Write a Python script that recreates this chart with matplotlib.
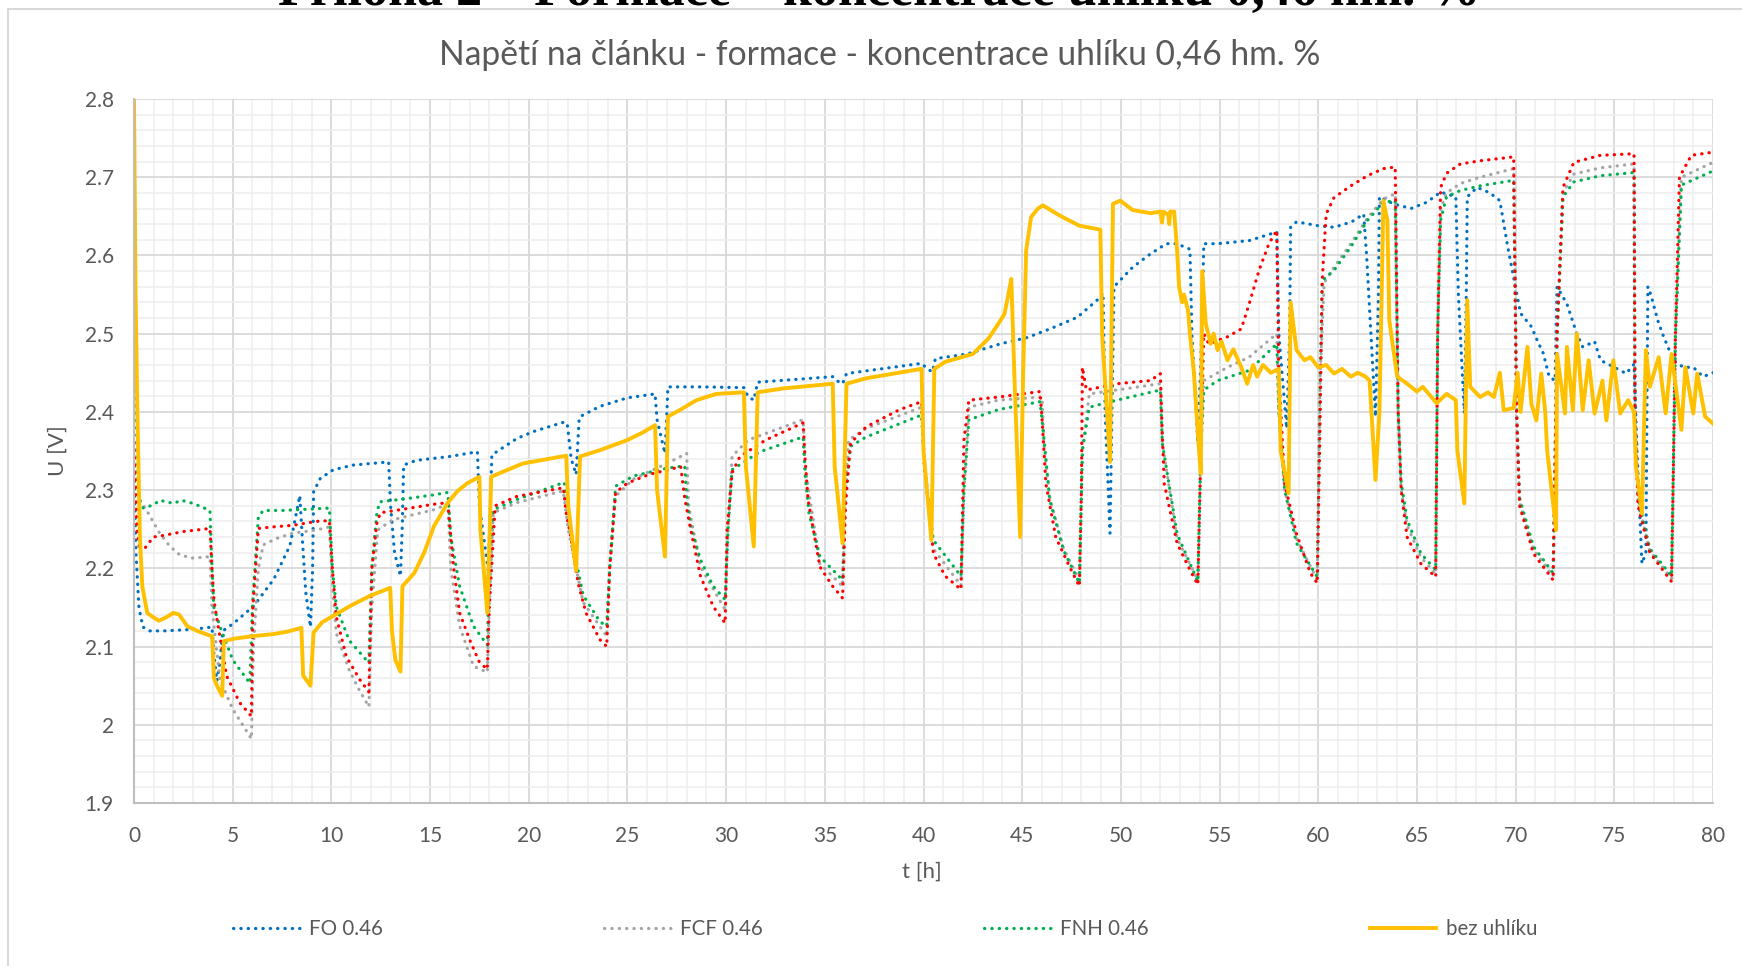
import numpy as np
import matplotlib
matplotlib.use('Agg')
import matplotlib.pyplot as plt
from matplotlib.patches import Rectangle
from matplotlib.ticker import MultipleLocator, FormatStrFormatter

## Data (t [h], U [V])

fo_pts = [(0, 2.33), (0.1, 2.22), (0.25, 2.15), (0.45, 2.125), (0.8, 2.12), (1.5, 2.12), (3.0, 2.122),
          (3.95, 2.125), (4.05, 2.09), (4.2, 2.056), (4.35, 2.08), (4.5, 2.12), (5.06, 2.13), (6.07, 2.152),
          (7.08, 2.186), (7.9, 2.229), (8.4, 2.293), (8.5, 2.25), (8.7, 2.17), (8.94, 2.125), (9.05, 2.2),
          (9.1, 2.298), (9.44, 2.315), (10.1, 2.326), (11.1, 2.332), (12.9, 2.336), (13.0, 2.28), (13.2, 2.22),
          (13.5, 2.19), (13.6, 2.26), (13.66, 2.332), (14.3, 2.338), (16.0, 2.343), (17.4, 2.349), (17.5, 2.28),
          (17.96, 2.195), (18.05, 2.28), (18.13, 2.345), (19.4, 2.366), (20.25, 2.375), (21.8, 2.387),
          (21.95, 2.385), (22.15, 2.34), (22.4, 2.32), (22.55, 2.39), (22.6, 2.394), (23.6, 2.407), (25.0, 2.418),
          (26.4, 2.423), (26.5, 2.39), (26.9, 2.347), (27.0, 2.4), (27.05, 2.432), (28.7, 2.432), (30.9, 2.431),
          (31.1, 2.42), (31.4, 2.415), (31.6, 2.438), (35.4, 2.445), (35.6, 2.44), (35.9, 2.436), (36.1, 2.449),
          (39.9, 2.462), (40.2, 2.455), (40.45, 2.451), (40.6, 2.468), (42.2, 2.474), (43.9, 2.487),
          (45.25, 2.495), (46.4, 2.506), (47.8, 2.521), (48.8, 2.543), (49.1, 2.552), (49.2, 2.40),
          (49.45, 2.245), (49.55, 2.40), (49.65, 2.56), (50.6, 2.585), (51.5, 2.602), (52.3, 2.615),
          (52.85, 2.615), (53.2, 2.611), (53.5, 2.608), (53.6, 2.5), (53.9, 2.36), (54.1, 2.5), (54.2, 2.615),
          (54.9, 2.615), (56.5, 2.619), (57.9, 2.63), (58.0, 2.5), (58.4, 2.379), (58.55, 2.5), (58.6, 2.636),
          (58.9, 2.643), (60.0, 2.638), (60.8, 2.636), (61.7, 2.643), (62.3, 2.653), (62.45, 2.6), (62.9, 2.394),
          (63.05, 2.55), (63.1, 2.675), (63.8, 2.666), (64.7, 2.66), (65.5, 2.668), (66.2, 2.681),
          (66.97, 2.675), (67.1, 2.55), (67.4, 2.398), (67.5, 2.55), (67.55, 2.675), (68.05, 2.687),
          (68.7, 2.68), (69.2, 2.67), (69.6, 2.611), (69.9, 2.572), (70.25, 2.526), (70.8, 2.509), (71.1, 2.491),
          (71.4, 2.475), (71.7, 2.445), (72.0, 2.44), (72.1, 2.56), (72.6, 2.538), (73.1, 2.5), (73.4, 2.483),
          (74.0, 2.49), (74.3, 2.466), (75.0, 2.457), (75.6, 2.449), (76.0, 2.461), (76.15, 2.35), (76.4, 2.206),
          (76.6, 2.22), (76.7, 2.56), (76.85, 2.55), (77.2, 2.517), (77.5, 2.496), (78.0, 2.466), (78.5, 2.457),
          (79.0, 2.457), (79.5, 2.445), (80.0, 2.45)]

fcf_pts = [(0, 2.38), (0.1, 2.32), (0.3, 2.287), (0.64, 2.274), (1.3, 2.245), (1.82, 2.228), (2.33, 2.217),
           (3.0, 2.213), (3.85, 2.215), (3.95, 2.15), (4.35, 2.058), (5.0, 2.02), (5.95, 1.982), (6.05, 2.1),
           (6.3, 2.2), (6.55, 2.23), (7.2, 2.238), (8.06, 2.245), (9.24, 2.249), (9.9, 2.253), (10.05, 2.18),
           (10.25, 2.117), (10.9, 2.07), (11.4, 2.045), (11.9, 2.023), (12.05, 2.15), (12.35, 2.249),
           (13.1, 2.262), (15.2, 2.275), (15.9, 2.282), (16.05, 2.2), (16.5, 2.126), (17.2, 2.075),
           (17.9, 2.067), (18.0, 2.15), (18.2, 2.271), (19.4, 2.284), (21.75, 2.299), (22.0, 2.25),
           (22.75, 2.157), (23.95, 2.113), (24.1, 2.2), (24.4, 2.292), (25.3, 2.314), (27.0, 2.334),
           (28.0, 2.347), (28.1, 2.28), (28.7, 2.202), (29.95, 2.147), (30.1, 2.25), (30.3, 2.343),
           (31.1, 2.364), (32.5, 2.377), (33.9, 2.39), (34.0, 2.33), (34.75, 2.206), (35.9, 2.177), (36.05, 2.3),
           (36.2, 2.364), (37.1, 2.379), (39.9, 2.406), (40.05, 2.33), (40.5, 2.225), (41.9, 2.178), (42.05, 2.3),
           (42.3, 2.406), (43.8, 2.415), (46.0, 2.419), (46.1, 2.36), (46.4, 2.29), (47.1, 2.225), (47.9, 2.185),
           (48.05, 2.35), (48.4, 2.423), (49.8, 2.428), (52.0, 2.436), (52.1, 2.36), (52.85, 2.238),
           (53.9, 2.185), (54.05, 2.35), (54.2, 2.44), (55.4, 2.457), (56.5, 2.47), (57.9, 2.5), (58.0, 2.4),
           (58.3, 2.3), (58.9, 2.238), (59.95, 2.185), (60.1, 2.45), (60.3, 2.565), (60.8, 2.585),
           (61.65, 2.615), (62.5, 2.648), (63.3, 2.672), (63.9, 2.679), (64.05, 2.4), (64.2, 2.3), (64.5, 2.255),
           (65.2, 2.214), (65.95, 2.193), (66.05, 2.5), (66.2, 2.66), (66.5, 2.68), (67.2, 2.692), (68.2, 2.7),
           (69.9, 2.711), (70.05, 2.4), (70.2, 2.285), (70.9, 2.224), (71.9, 2.19), (72.1, 2.5), (72.4, 2.68),
           (72.95, 2.704), (74.3, 2.712), (76.0, 2.717), (76.05, 2.4), (76.2, 2.285), (76.8, 2.222),
           (77.9, 2.187), (78.1, 2.5), (78.4, 2.7), (80.0, 2.719)]

fnh_pts = [(0, 2.53), (0.1, 2.4), (0.25, 2.29), (0.47, 2.277), (0.98, 2.281), (1.3, 2.287), (2.0, 2.283),
           (2.4, 2.287), (3.0, 2.283), (3.85, 2.274), (3.95, 2.2), (4.05, 2.15), (4.35, 2.126), (5.0, 2.083),
           (5.87, 2.053), (6.0, 2.15), (6.3, 2.266), (6.55, 2.274), (7.55, 2.274), (9.9, 2.277), (10.05, 2.2),
           (10.25, 2.151), (10.9, 2.108), (11.9, 2.079), (12.05, 2.2), (12.3, 2.27), (12.45, 2.285),
           (13.1, 2.287), (13.5, 2.288), (15.2, 2.294), (15.9, 2.297), (16.05, 2.24), (16.5, 2.177),
           (17.2, 2.126), (17.9, 2.102), (18.0, 2.2), (18.2, 2.275), (19.4, 2.288), (21.8, 2.31), (22.0, 2.26),
           (22.75, 2.166), (23.6, 2.132), (23.95, 2.126), (24.1, 2.2), (24.4, 2.305), (25.3, 2.318),
           (27.0, 2.328), (27.9, 2.331), (28.0, 2.29), (28.2, 2.254), (28.7, 2.211), (29.35, 2.177),
           (29.95, 2.16), (30.1, 2.25), (30.3, 2.326), (31.7, 2.349), (33.9, 2.368), (34.0, 2.32), (34.2, 2.27),
           (34.75, 2.215), (35.9, 2.185), (36.05, 2.3), (36.3, 2.356), (37.1, 2.368), (39.9, 2.396),
           (40.05, 2.33), (40.5, 2.236), (41.9, 2.19), (42.05, 2.3), (42.3, 2.39), (43.8, 2.403), (45.9, 2.413),
           (46.05, 2.38), (46.4, 2.287), (47.1, 2.223), (47.9, 2.181), (48.05, 2.351), (48.4, 2.406),
           (49.8, 2.415), (52.0, 2.428), (52.1, 2.36), (52.85, 2.244), (53.9, 2.183), (54.05, 2.35),
           (54.2, 2.428), (54.9, 2.44), (56.5, 2.453), (57.9, 2.487), (58.0, 2.4), (58.3, 2.3), (58.9, 2.232),
           (59.95, 2.189), (60.1, 2.45), (60.2, 2.568), (60.8, 2.581), (61.65, 2.611), (62.5, 2.645),
           (63.3, 2.668), (63.9, 2.67), (64.05, 2.4), (64.2, 2.31), (64.5, 2.262), (65.2, 2.219), (65.95, 2.198),
           (66.05, 2.5), (66.2, 2.645), (66.5, 2.675), (67.2, 2.683), (68.2, 2.689), (69.9, 2.696),
           (70.05, 2.4), (70.2, 2.29), (70.9, 2.228), (71.9, 2.194), (72.1, 2.5), (72.4, 2.675),
           (72.95, 2.694), (74.3, 2.702), (76.0, 2.706), (76.05, 2.4), (76.2, 2.29), (76.8, 2.225),
           (77.9, 2.19), (78.1, 2.5), (78.4, 2.69), (80.0, 2.708)]

red_pts = [(0, 2.36), (0.15, 2.25), (0.3, 2.22), (0.47, 2.223), (0.98, 2.24), (1.48, 2.242), (2.5, 2.247),
           (3.85, 2.251), (3.95, 2.2), (4.05, 2.16), (4.18, 2.138), (4.7, 2.062), (5.36, 2.028), (5.95, 2.011),
           (6.02, 2.15), (6.3, 2.251), (7.05, 2.253), (8.06, 2.255), (9.24, 2.26), (9.9, 2.261), (10.05, 2.2),
           (10.25, 2.138), (10.76, 2.087), (11.43, 2.058), (11.9, 2.042), (12.05, 2.2), (12.3, 2.257),
           (12.48, 2.271), (13.5, 2.275), (15.2, 2.282), (15.9, 2.284), (16.05, 2.24), (16.2, 2.2),
           (16.5, 2.143), (17.0, 2.109), (17.5, 2.08), (17.9, 2.071), (18.0, 2.15), (18.3, 2.28), (19.4, 2.292),
           (21.75, 2.303), (21.9, 2.27), (22.1, 2.245), (22.5, 2.181), (22.9, 2.143), (23.6, 2.109),
           (23.95, 2.1), (24.1, 2.2), (24.4, 2.297), (25.0, 2.309), (26.1, 2.32), (27.7, 2.33), (27.9, 2.29),
           (28.2, 2.25), (28.7, 2.19), (29.35, 2.151), (29.95, 2.13), (30.05, 2.25), (30.3, 2.322),
           (30.7, 2.343), (32.0, 2.364), (33.9, 2.386), (34.0, 2.34), (34.15, 2.288), (34.75, 2.202),
           (35.4, 2.177), (35.9, 2.162), (36.05, 2.28), (36.3, 2.36), (37.1, 2.381), (38.8, 2.403),
           (39.9, 2.413), (40.05, 2.33), (40.5, 2.219), (41.1, 2.19), (41.9, 2.173), (42.05, 2.364),
           (42.3, 2.415), (43.8, 2.419), (45.9, 2.426), (46.0, 2.394), (46.2, 2.308), (46.7, 2.24),
           (47.4, 2.202), (47.9, 2.177), (48.0, 2.3), (48.05, 2.457), (48.25, 2.428), (49.8, 2.436),
           (51.5, 2.44), (52.0, 2.449), (52.1, 2.37), (52.2, 2.308), (52.85, 2.232), (53.5, 2.198),
           (53.9, 2.179), (54.05, 2.35), (54.2, 2.50), (54.45, 2.487), (55.4, 2.496), (56.1, 2.506),
           (56.5, 2.538), (57.0, 2.581), (57.5, 2.615), (57.9, 2.632), (58.0, 2.45), (58.3, 2.308),
           (58.9, 2.244), (59.6, 2.194), (59.95, 2.181), (60.1, 2.4), (60.2, 2.568), (60.4, 2.653),
           (60.8, 2.674), (61.65, 2.689), (62.5, 2.702), (63.3, 2.711), (63.9, 2.713), (64.05, 2.4),
           (64.2, 2.3), (64.5, 2.24), (65.2, 2.206), (65.95, 2.189), (66.05, 2.5), (66.2, 2.687),
           (66.5, 2.705), (67.2, 2.717), (68.2, 2.721), (69.9, 2.726), (70.05, 2.4), (70.2, 2.28),
           (70.9, 2.219), (71.9, 2.185), (72.1, 2.5), (72.4, 2.687), (72.95, 2.719), (74.3, 2.728),
           (76.0, 2.73), (76.05, 2.4), (76.2, 2.28), (76.8, 2.22), (77.9, 2.183), (78.1, 2.5), (78.3, 2.7),
           (78.9, 2.728), (80.0, 2.732)]

bez_pts = [(0, 2.80), (0.08, 2.55), (0.17, 2.40), (0.3, 2.24), (0.42, 2.177), (0.67, 2.143), (1.0, 2.137),
           (1.26, 2.133), (1.6, 2.137), (2.0, 2.143), (2.28, 2.141), (2.7, 2.126), (3.2, 2.12), (3.96, 2.113),
           (4.05, 2.06), (4.2, 2.05), (4.47, 2.037), (4.55, 2.107), (5.06, 2.11), (5.9, 2.113), (7.08, 2.116),
           (7.76, 2.119), (8.48, 2.124), (8.57, 2.063), (8.94, 2.05), (9.1, 2.118), (9.53, 2.131),
           (10.96, 2.152), (11.97, 2.165), (12.98, 2.175), (13.07, 2.12), (13.24, 2.083), (13.5, 2.068),
           (13.6, 2.177), (14.2, 2.194), (14.7, 2.22), (15.2, 2.254), (15.9, 2.284), (16.4, 2.299),
           (16.9, 2.309), (17.5, 2.317), (17.55, 2.25), (17.9, 2.143), (18.1, 2.317), (18.55, 2.322),
           (19.7, 2.334), (21.9, 2.344), (22.0, 2.28), (22.4, 2.197), (22.6, 2.343), (23.6, 2.351),
           (25.0, 2.364), (25.8, 2.374), (26.4, 2.383), (26.5, 2.3), (26.9, 2.215), (27.05, 2.394),
           (27.7, 2.403), (28.5, 2.415), (29.5, 2.423), (30.9, 2.425), (31.0, 2.33), (31.4, 2.228),
           (31.6, 2.425), (32.9, 2.43), (35.4, 2.436), (35.5, 2.33), (35.9, 2.232), (36.1, 2.436),
           (37.1, 2.443), (39.9, 2.455), (40.0, 2.35), (40.4, 2.236), (40.55, 2.455), (41.1, 2.464),
           (42.5, 2.474), (43.3, 2.494), (43.8, 2.513), (44.1, 2.525), (44.3, 2.55), (44.45, 2.57),
           (44.6, 2.45), (44.9, 2.24), (45.05, 2.45), (45.2, 2.606), (45.45, 2.649), (45.8, 2.66),
           (46.05, 2.664), (46.9, 2.651), (47.9, 2.638), (48.96, 2.633), (49.05, 2.5), (49.45, 2.336),
           (49.6, 2.666), (49.97, 2.67), (50.6, 2.658), (51.5, 2.654), (52.0, 2.656), (52.08, 2.642),
           (52.15, 2.656), (52.4, 2.652), (52.45, 2.64), (52.5, 2.656), (52.7, 2.656), (52.85, 2.606),
           (52.95, 2.56), (53.1, 2.54), (53.2, 2.55), (53.4, 2.53), (53.5, 2.5), (53.7, 2.45), (53.9, 2.372),
           (54.05, 2.321), (54.12, 2.58), (54.3, 2.513), (54.55, 2.487), (54.7, 2.5), (54.9, 2.479),
           (55.1, 2.49), (55.4, 2.466), (55.7, 2.48), (56.1, 2.457), (56.4, 2.436), (56.7, 2.46),
           (56.9, 2.445), (57.2, 2.46), (57.6, 2.45), (58.0, 2.455), (58.1, 2.35), (58.5, 2.296),
           (58.6, 2.54), (58.9, 2.479), (59.3, 2.466), (59.6, 2.47), (60.0, 2.457), (60.4, 2.46),
           (60.8, 2.449), (61.2, 2.455), (61.65, 2.445), (62.0, 2.45), (62.4, 2.445), (62.6, 2.44),
           (62.9, 2.313), (63.1, 2.40), (63.3, 2.67), (63.5, 2.645), (63.6, 2.517), (64.0, 2.445),
           (64.4, 2.438), (64.7, 2.432), (65.0, 2.426), (65.3, 2.432), (65.7, 2.42), (66.0, 2.411),
           (66.5, 2.423), (66.97, 2.415), (67.05, 2.35), (67.4, 2.283), (67.55, 2.543), (67.7, 2.432),
           (68.2, 2.419), (68.6, 2.425), (68.9, 2.419), (69.2, 2.45), (69.4, 2.402), (69.9, 2.405),
           (70.1, 2.45), (70.25, 2.4), (70.6, 2.483), (70.8, 2.41), (71.05, 2.389), (71.3, 2.449),
           (71.5, 2.4), (71.6, 2.35), (72.05, 2.249), (72.1, 2.474), (72.5, 2.398), (72.6, 2.483),
           (72.9, 2.402), (73.1, 2.5), (73.4, 2.402), (73.7, 2.466), (74.0, 2.398), (74.4, 2.44),
           (74.6, 2.389), (74.95, 2.466), (75.3, 2.398), (75.7, 2.415), (76.0, 2.40), (76.1, 2.33),
           (76.4, 2.27), (76.6, 2.479), (76.8, 2.432), (77.25, 2.47), (77.6, 2.398), (77.9, 2.474),
           (78.4, 2.377), (78.6, 2.457), (79.0, 2.398), (79.2, 2.449), (79.6, 2.394), (80.0, 2.385)]

labels = ['FO 0.46', 'FCF 0.46', 'FNH 0.46', 'bez uhlíku']

heading = 'Příloha 2 – Formace – koncentrace uhlíku 0,46 hm. %'
title = 'Napětí na článku - formace - koncentrace uhlíku 0,46 hm. %'

## Figure

plt.rcParams['font.family'] = ['Lato', 'DejaVu Sans']
txt_col = '#595959'
W, H = 1742, 966

fig = plt.figure(figsize=(W / 100, H / 100), dpi=100)
ax = fig.add_axes([134 / W, 1 - 803 / H, (1713 - 134) / W, (803 - 99) / H])

dot = dict(lw=2.3, linestyle=(0, (0.1, 2.2)), dash_capstyle='round')
series = [(fo_pts, '#0070C0', labels[0]), (fcf_pts, '#A5A5A5', labels[1]),
          (fnh_pts, '#00B050', labels[2]), (red_pts, '#FF0000', '_nolegend_')]
for pts, col, lab in series:
    t, u = np.array(pts).T
    ax.plot(t, u, color=col, label=lab, **dot)
t, u = np.array(bez_pts).T
ax.plot(t, u, color='#FFC000', lw=2.8, label=labels[3], solid_joinstyle='round')

ax.set_xlim(0, 80)
ax.set_ylim(1.9, 2.8)
ax.xaxis.set_major_locator(MultipleLocator(5))
ax.xaxis.set_minor_locator(MultipleLocator(1))
ax.yaxis.set_major_locator(MultipleLocator(0.1))
ax.yaxis.set_minor_locator(MultipleLocator(0.02))
ax.yaxis.set_major_formatter(FormatStrFormatter('%g'))
ax.grid(which='minor', color='#EDEDED', lw=1.1)
ax.grid(which='major', color='#D6D6D6', lw=1.2)
ax.set_axisbelow(True)
for s in ['top', 'right']:
    ax.spines[s].set_visible(False)
for s in ['left', 'bottom']:
    ax.spines[s].set_color('#BFBFBF')
    ax.spines[s].set_linewidth(1.5)
ax.tick_params(which='both', length=0, labelcolor=txt_col, labelsize=15)
ax.tick_params(axis='y', pad=14.5)
ax.tick_params(axis='x', pad=16.5)

fig.text(58 / W, 1 - 451 / H, 'U [V]', rotation=90, ha='center', va='center', color=txt_col, fontsize=16)
fig.text(922 / W, 1 - 872 / H, 't [h]', ha='center', va='center', color=txt_col, fontsize=16)
fig.text(880 / W, 1 - 55 / H, title, ha='center', va='center', color=txt_col, fontsize=24.2)
fig.text(879 / W, 1 - 4.5 / H, heading, ha='center', va='baseline', fontsize=37.5,
         family='Liberation Serif', weight='bold', color='black')

# chart area border
fig.patches.append(Rectangle((8 / W, -0.05), 1.2, 1.05 - 9 / H, transform=fig.transFigure,
                             fill=False, edgecolor='#D9D9D9', lw=1.5))

h, l = ax.get_legend_handles_labels()
fig.legend(h, l, loc='center left', bbox_to_anchor=(223 / W, 1 - 929 / H), ncol=4, frameon=False,
           fontsize=14.8, labelcolor=txt_col, handlelength=3.25, handletextpad=0.45,
           columnspacing=10.75, borderpad=0)

fig.savefig('out.png', dpi=100)
